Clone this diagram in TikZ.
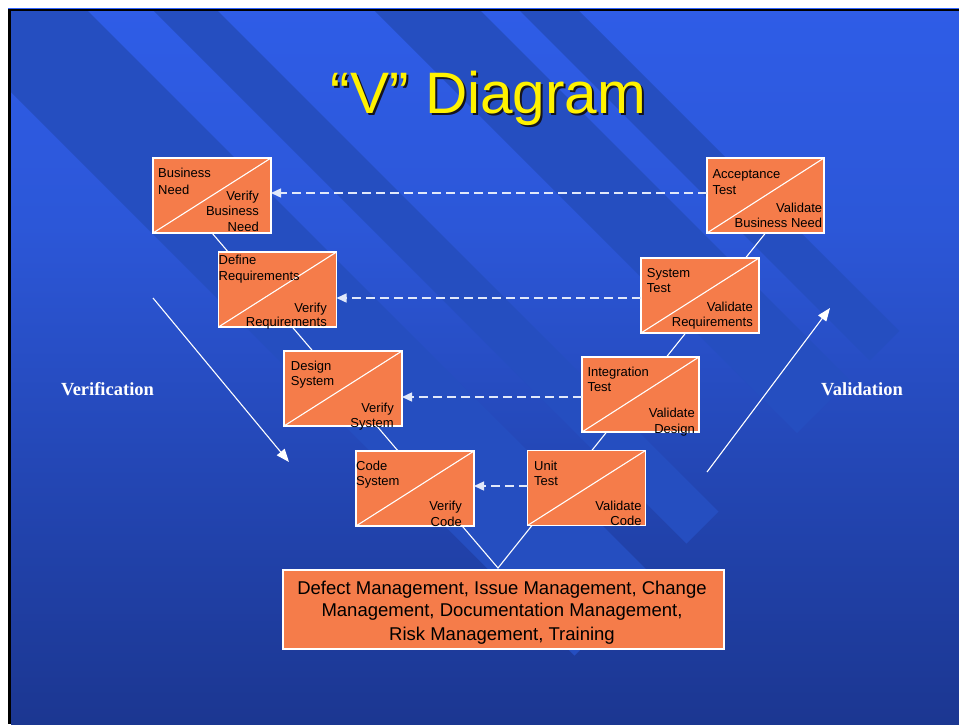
\documentclass[tikz,border=0pt]{standalone}
\usepackage{fontspec}
\setmainfont{Liberation Sans}
\newfontfamily\labfont{Liberation Serif}
\usetikzlibrary{arrows.meta}
\definecolor{bgtop}{RGB}{51,102,255}
\definecolor{bgA}{RGB}{44,87,216}
\definecolor{bgB}{RGB}{34,68,175}
\definecolor{bgC}{RGB}{25,50,135}
\definecolor{bgbot}{RGB}{19,38,106}
\definecolor{band}{RGB}{37,78,192}
\definecolor{boxfill}{RGB}{245,124,74}
\definecolor{dashcol}{RGB}{225,232,250}
\definecolor{ttlshadow}{RGB}{20,20,30}
\pgfdeclareverticalshading{slidebg}{100bp}{color(0bp)=(bgbot); color(20bp)=(bgC); color(40bp)=(bgB); color(60bp)=(bgA); color(100bp)=(bgtop)}
\pgfdeclarelayer{bglayer}
\pgfdeclarelayer{behind}
\pgfsetlayers{bglayer,behind,main}
\newcounter{tl}
\newcommand\vtxt[4]{\stepcounter{tl}\node[txt,anchor=#3] (t\thetl) at (#1,#2) {#4};}
\newcommand\mtxt[3]{\stepcounter{tl}\node[mtxtstyle] (t\thetl) at (#1,#2) {#3};}
\newcommand\shadowed[1]{\makebox[0pt][l]{\hspace{2pt}\raisebox{-2pt}{\textcolor{ttlshadow}{#1}}}\textcolor{yellow}{#1}}
\begin{document}
\begin{tikzpicture}[x=1pt,y=-1pt,
  vbox/.style={draw=white, line width=1.3pt, fill=boxfill, minimum width=118pt, minimum height=75pt, inner sep=0pt, outer sep=0pt, anchor=north west},
  diag/.style={draw=white, line width=1.1pt},
  vline/.style={draw=white, line width=1.1pt},
  txt/.style={inner sep=0pt, text=black, font=\fontsize{13}{15.5}\selectfont},
  mtxtstyle/.style={inner sep=0pt, anchor=base, text=black, font=\fontsize{18.5}{22}\selectfont},
  dasharr/.style={draw=dashcol, line width=1.4pt, dash pattern=on 9pt off 5pt, -{Triangle[length=10pt,width=9pt]}},
  diagarr/.style={draw=white, line width=1.1pt, -{Triangle[length=13pt,width=10pt]}},
  lab/.style={inner sep=0pt, anchor=base, text=white, font=\labfont\bfseries\fontsize{18.5}{22}\selectfont},
  ttl/.style={inner sep=0pt, anchor=base, font=\fontsize{58.5}{70}\selectfont}
]
\useasboundingbox (0,0) rectangle (959,724);
\begin{pgfonlayer}{bglayer}
\fill[white] (0,0) rectangle (959,724);
\fill[black] (8,8) rectangle (959,11);
\fill[black] (8,8) rectangle (11,724);
\fill[bgtop] (8,7.5) rectangle (959,8.6);
\shade[shading=slidebg] (11,11) rectangle (959,724);
\begin{scope}
\clip (11,11) rectangle (959,724);
\fill[band] (-281,-200) -- (-123,-200) -- (653.5,576.5) -- (574.5,655.5) -- cycle;
\fill[band] (-57,-200) -- (7,-200) -- (718.5,511.5) -- (686.5,543.5) -- cycle;
\fill[band] (164,-200) -- (270,-200) -- (850,380) -- (797,433) -- cycle;
\fill[band] (309,-200) -- (368,-200) -- (899,331) -- (869.5,360.5) -- cycle;
\end{scope}
\end{pgfonlayer}

% title
\node[ttl] (title) at (488.5,113) {\shadowed{“V” Diagram}};

% boxes
\node[vbox] (bn) at (153,158) {};
\node[vbox] (dr) at (218.5,252) {};
\node[vbox] (ds) at (284,351) {};
\node[vbox] (cs) at (356,451) {};
\node[vbox] (ut) at (527.5,450.5) {};
\node[vbox, minimum width=117pt] (it) at (582,357) {};
\node[vbox] (st) at (641,258) {};
\node[vbox, minimum width=117pt] (acc) at (707,158) {};
\node[vbox, minimum width=441pt, minimum height=79pt] (mgmt) at (283,570) {};
\foreach \b in {bn,dr,ds,cs,ut,it,st,acc} \draw[diag] (\b.south west) -- (\b.north east);

% V line behind boxes
\coordinate (vtip) at (498,568);
\begin{pgfonlayer}{behind}
\draw[vline] (bn.south) -- (vtip) -- (acc.south);
\end{pgfonlayer}

% box texts
\vtxt{158}{177.7}{base west}{Business}
\vtxt{158}{194}{base west}{Need}
\vtxt{259}{200}{base east}{Verify}
\vtxt{259}{215.7}{base east}{Business}
\vtxt{259}{231.7}{base east}{Need}

\vtxt{218.5}{264.3}{base west}{Define}
\vtxt{218.5}{280}{base west}{Requirements}
\vtxt{327}{312}{base east}{Verify}
\vtxt{327}{326.7}{base east}{Requirements}

\vtxt{290.7}{370.7}{base west}{Design}
\vtxt{290.7}{385.7}{base west}{System}
\vtxt{394}{412.3}{base east}{Verify}
\vtxt{394}{427.3}{base east}{System}

\vtxt{356}{470}{base west}{Code}
\vtxt{356}{485.7}{base west}{System}
\vtxt{462}{510.7}{base east}{Verify}
\vtxt{462}{526}{base east}{Code}

\vtxt{534}{470}{base west}{Unit}
\vtxt{534}{485.7}{base west}{Test}
\vtxt{641.7}{510.7}{base east}{Validate}
\vtxt{641.7}{525.7}{base east}{Code}

\vtxt{587.3}{376}{base west}{Integration}
\vtxt{587.3}{391.7}{base west}{Test}
\vtxt{695}{417.3}{base east}{Validate}
\vtxt{695}{433.3}{base east}{Design}

\vtxt{646.7}{277.3}{base west}{System}
\vtxt{646.7}{292.7}{base west}{Test}
\vtxt{753}{311.7}{base east}{Validate}
\vtxt{753}{326.7}{base east}{Requirements}

\vtxt{712.3}{178.3}{base west}{Acceptance}
\vtxt{712.3}{194}{base west}{Test}
\vtxt{822.3}{212.3}{base east}{Validate}
\vtxt{822.3}{227.7}{base east}{Business Need}

\mtxt{502}{594.3}{Defect Management, Issue Management, Change}
\mtxt{502}{616.7}{Management, Documentation Management,}
\mtxt{502}{640}{Risk Management, Training}

% dashed arrows
\coordinate (ya) at (0,193);
\coordinate (yb) at (0,298);
\coordinate (yc) at (0,397);
\coordinate (yd) at (0,486);
\draw[dasharr] (acc.west |- ya) -- (bn.east |- ya);
\draw[dasharr] (st.west |- yb) -- (dr.east |- yb);
\draw[dasharr] (it.west |- yc) -- (ds.east |- yc);
\draw[dasharr] (ut.west |- yd) -- (cs.east |- yd);

% side arrows
\coordinate (verS) at (153,298);
\coordinate (verE) at (289,462);
\coordinate (valS) at (707,472);
\coordinate (valE) at (830,308);
\draw[diagarr] (verS) -- (verE);
\draw[diagarr] (valS) -- (valE);

\node[lab] (verlab) at (107.5,395.7) {Verification};
\node[lab] (vallab) at (862,395.7) {Validation};
\end{tikzpicture}
\end{document}
